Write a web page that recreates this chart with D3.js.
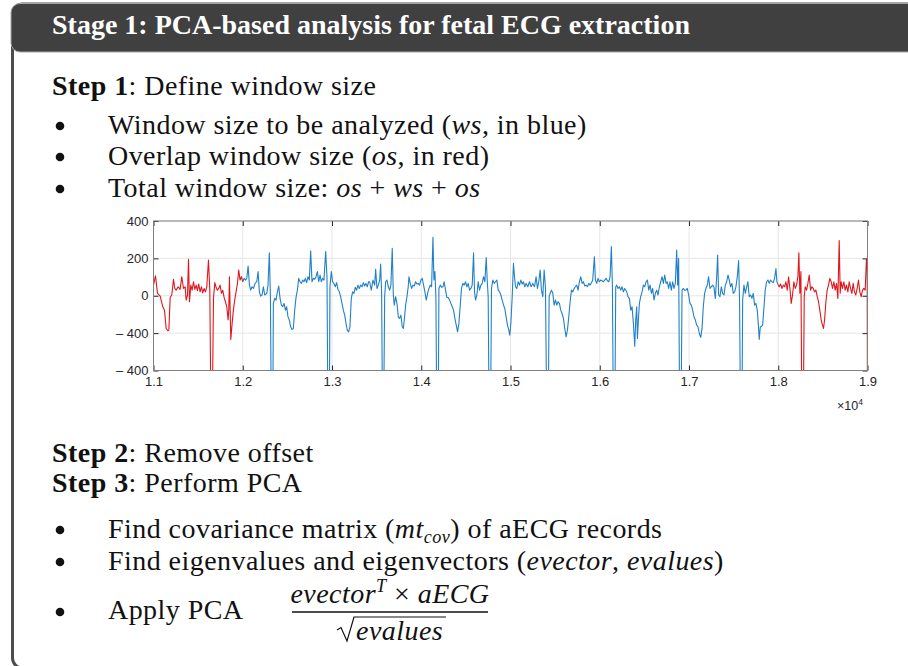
<!DOCTYPE html>
<html>
<head>
<meta charset="utf-8">
<script src="https://cdn.jsdelivr.net/npm/d3@7/dist/d3.min.js"></script>
<style>
  body { margin: 0; background: #fff; }
  svg { display: block; }
</style>
</head>
<body>
<script>
// aECG trace: sample index and amplitude
var sampleIdx = [
  11000,11022,11045,11075,11104,11123,11142,11160,11172,11187,
  11205,11224,11239,11254,11276,11298,11317,11336,11354,11366,
  11381,11392,11403,11418,11433,11448,11463,11478,11492,11507,
  11522,11537,11552,11567,11582,11597,11616,11631,11645,11657,
  11672,11687,11701,11716,11731,11746,11761,11776,11791,11806,
  11821,11836,11843,11851,11866,11881,11895,11910,11925,11940,
  11955,11970,11985,12000,
  12015,12030,12045,12060,12075,12089,12104,12119,12138,12157,
  12172,12186,12201,12216,12231,12246,12269,12283,12298,12310,
  12321,12336,12343,12358,12373,12388,12403,12418,12433,12448,
  12463,12478,12492,12507,12522,12537,12552,12567,12582,12597,
  12612,12627,12642,12657,12672,12686,12701,12716,12731,12746,
  12761,12776,12791,12806,12821,12836,12851,12866,12880,12895,
  12910,12929,12944,12955,12970,12977,12992,13007,13022,13037,
  13052,13067,13082,13097,13112,13127,13142,13157,13171,13186,
  13201,13216,13231,13246,13261,13276,13291,13306,13321,13336,
  13351,13366,13380,13395,13410,
  13422,13440,13459,13478,13489,13504,13519,13534,13545,13556,
  13567,13578,13590,13601,13616,13631,13646,13660,13675,13687,
  13698,13713,13728,13743,13757,13772,13787,13799,13810,13825,
  13840,13854,13862,13877,13892,13907,13922,13937,13951,13966,
  13981,13996,14011,14026,14041,14056,14071,14086,14101,14116,
  14131,14142,14153,14164,14175,14190,14198,14213,14228,14243,
  14257,14272,14287,14302,14317,14332,14347,14362,14377,14392,
  14407,14422,14437,14451,14466,14481,14496,14511,14526,14541,
  14556,14571,14586,14597,14608,14623,14638,14653,14668,14683,
  14698,14713,14728,14739,14750,14761,14776,14787,14802,14817,
  14832,14847,14862,14877,14892,14907,14922,14936,14951,14966,
  14981,14992,15004,15019,15033,15045,15056,15071,15086,15101,
  15116,15131,15145,15160,15175,15194,15213,15231,15250,15269,
  15287,15302,15317,15332,15347,15362,15377,15392,15407,15422,
  15433,15444,15459,15474,15489,15504,15519,15533,15548,15563,
  15578,15593,15608,15623,15638,15653,15668,15683,15698,15713,
  15727,15742,15757,15772,15787,15802,15817,15832,15847,15862,
  15877,15892,15907,15921,15940,15951,15966,15981,15996,16011,
  16026,16041,16056,16071,16086,16101,16116,16130,16142,16153,
  16168,16179,16190,16205,16220,16235,16250,16265,16280,
  16302,16317,16332,16347,16362,16377,16392,16403,16414,16422,
  16433,16444,16459,16474,16489,16504,16519,16534,16549,16564,
  16579,16593,16608,16623,16638,16653,16668,16683,16698,16713,
  16728,16743,16757,16772,16787,16802,16817,16832,16847,16862,
  16873,16884,16896,16910,16922,16937,16951,16966,16981,16996,
  17011,17026,17041,17056,17071,17086,17101,17116,17131,17146,
  17160,17175,17190,17205,17220,17235,17250,17265,17280,17295,
  17310,17321,17332,17347,17362,17377,17392,17407,17422,17437,
  17451,17466,17481,17496,17511,17526,17541,17556,17567,17578,
  17593,17601,17616,17631,17646,17660,17675,17690,17705,17720,
  17735,17750,17765,17776,17787,17799,17810,17825,17839,17854,
  17869,17884,17899,17914,17929,17944,17959,17974,17985,18000,
  18011,18026,18041,18056,18071,18086,18101,18116,18131,18145,
  18160,18175,18190,18205,18220,18231,18242,18254,18265,18280,
  18291,18302,18317,18332,18347,18362,18377,18392,18407,18422,
  18437,18451,18466,18481,18496,18507,18519,18534,18548,18563,
  18578,18593,18608,18623,18638,18653,18668,18683,18694,18705,
  18720,18735,18750,18765,18780,18795,18810,18825,18839,18854,
  18869,18884,18899,18914,18929,18944,18959,18974,18988,18996,
  19000
];
var amplitude = [
  57,107,13,-2,-59,-77,-175,-187,-184,-9,
  4,88,39,30,48,34,102,39,48,-23,
  4,195,-32,57,30,75,34,57,27,63,
  21,48,16,39,21,48,191,30,-700,-700,
  -14,70,45,30,39,57,13,30,-9,-32,
  -59,-130,-77,102,-234,-148,-77,-23,21,63,
  138,84,102,75,
  93,84,93,159,57,30,48,39,66,75,
  129,21,-2,4,48,4,13,57,230,-5,
  -700,-700,-41,-14,-23,21,52,-14,-50,-59,
  -41,-77,-59,-113,-130,-166,-180,-175,-77,-9,
  30,93,75,66,84,75,93,70,102,84,
  241,75,93,88,102,129,75,111,75,93,
  84,236,102,-700,-700,48,129,75,66,48,
  70,34,21,-5,-41,-77,-104,-148,-184,-193,
  -166,-14,21,13,45,30,57,39,57,48,
  70,52,66,48,75,
  75,30,84,57,141,39,57,84,170,13,
  -700,-700,-5,75,84,48,30,57,254,4,
  -50,-5,-41,-113,-121,-104,-166,-175,-130,-50,
  -5,48,102,66,39,57,52,75,63,66,
  57,84,93,57,21,-23,13,39,57,48,
  313,84,129,-5,-700,-700,39,57,45,48,
  75,30,-9,-9,-23,-41,-59,-77,-121,-157,
  -193,-148,-50,39,66,57,75,48,66,30,
  39,57,230,21,-23,4,75,30,57,66,
  102,75,205,84,-5,-700,-700,39,84,66,
  75,84,30,21,4,-23,-50,-68,-113,-157,
  -184,-211,-148,-5,173,102,48,39,75,57,
  84,63,75,48,66,48,75,48,66,48,
  102,39,75,138,30,-5,138,39,-700,-700,
  -5,13,30,13,-50,-23,-50,-32,-41,-77,
  -95,-121,-175,-220,-184,-113,-32,30,21,39,
  48,57,30,75,102,66,75,52,57,48,
  66,57,70,84,209,84,66,93,75,84,
  80,75,84,93,80,75,102,263,48,-700,
  -700,48,57,39,48,30,48,21,39,
  21,-5,-14,-77,-59,-148,-270,-130,-59,-229,
  -130,-41,-5,21,57,48,75,84,30,57,
  13,39,-23,13,30,4,48,75,102,66,
  111,66,75,39,75,30,75,39,66,245,
  57,200,-700,-700,30,39,30,30,39,4,
  -41,-50,-77,-113,-130,-157,-166,-202,-223,-175,
  -59,13,39,57,102,39,48,57,45,-14,
  102,218,4,-5,48,13,4,57,75,111,
  84,48,66,13,21,48,102,188,-41,-700,
  -700,-23,57,13,48,75,-5,4,-14,13,
  -50,-41,-77,-148,-234,-166,-166,-157,-68,30,
  75,84,66,84,75,70,93,146,75,57,
  48,63,39,57,48,75,30,102,39,-41,
  4,75,39,57,102,230,13,129,-700,-700,
  -5,48,30,66,111,30,48,39,21,30,
  -5,-32,-77,-130,-157,-175,-130,-32,30,57,
  93,75,39,75,30,66,-14,295,13,75,
  39,75,30,57,21,75,39,13,66,21,
  4,39,84,21,-5,30,39,30,195,191,
  -700
];

// window limits: os (red) | ws (blue) | os (red)
var osStart = 11000, wsStart = 12000, wsEnd = 18000, osEnd = 19000;

var xTicks = [11000,12000,13000,14000,15000,16000,17000,18000,19000];
var xTickLabels = ["1.1","1.2","1.3","1.4","1.5","1.6","1.7","1.8","1.9"];
var yTicks = [400,200,0,-200,-400];
var yTickLabels = ["400","200","0","\u2013 400","\u2013 400"];

var width = 908, height = 666;

var svg = d3.select("body").append("svg")
    .attr("width", width)
    .attr("height", height)
    .style("font-family", "'Liberation Serif', 'Times New Roman', serif");

// box frame
svg.append("rect")
    .attr("x", 12.5).attr("y", 4)
    .attr("width", 1000).attr("height", 664)
    .attr("rx", 10)
    .attr("fill", "#fff")
    .attr("stroke", "#4d4d4d")
    .attr("stroke-width", 3);

// header bar
svg.append("rect")
    .attr("x", 11).attr("y", 3.5)
    .attr("width", 1000).attr("height", 48.5)
    .attr("rx", 9)
    .attr("fill", "#404040")
    .attr("stroke", "#a6a6a6")
    .attr("stroke-width", 1);

svg.append("text")
    .attr("x", 52).attr("y", 34)
    .attr("fill", "#fff")
    .attr("font-size", 28)
    .attr("font-weight", "bold")
    .text("Stage 1: PCA-based analysis for fetal ECG extraction");

// text line with bold / italic / sub / sup parts
function rich(x, y, parts, size, anchor) {
  var t = svg.append("text")
      .attr("x", x).attr("y", y)
      .attr("font-size", size)
      .attr("letter-spacing", 0.45)
      .attr("fill", "#111")
      .attr("text-anchor", anchor || "start");
  var shift = 0;
  parts.forEach(function(p) {
    var sp = t.append("tspan").text(p.t);
    var target = p.sub ? 5 : (p.sup ? -11 : 0);
    if (target !== shift) sp.attr("dy", target - shift);
    shift = target;
    if (p.b) sp.attr("font-weight", "bold");
    if (p.i) sp.attr("font-style", "italic");
    if (p.sub || p.sup) sp.attr("font-size", size * 0.65);
  });
  return t;
}

function bullet(y) {
  svg.append("circle").attr("cx", 60).attr("cy", y - 8).attr("r", 4.3).attr("fill", "#111");
}

var fs = 28;

rich(52, 95, [{t: "Step 1", b: true}, {t: ": Define window size"}], fs);
bullet(134);
rich(108, 134, [{t: "Window size to be analyzed ("}, {t: "ws", i: true}, {t: ", in blue)"}], fs);
bullet(165);
rich(108, 165, [{t: "Overlap window size ("}, {t: "os", i: true}, {t: ", in red)"}], fs);
bullet(197);
rich(108, 197, [{t: "Total window size: "}, {t: "os", i: true}, {t: " + "}, {t: "ws", i: true}, {t: " + "}, {t: "os", i: true}], fs);

rich(52, 462, [{t: "Step 2", b: true}, {t: ": Remove offset"}], fs);
rich(52, 492, [{t: "Step 3", b: true}, {t: ": Perform PCA"}], fs);
bullet(538);
rich(108, 538, [{t: "Find covariance matrix ("}, {t: "mt", i: true}, {t: "cov", i: true, sub: true}, {t: ") of aECG records"}], fs);
bullet(570);
rich(108, 570, [{t: "Find eigenvalues and eigenvectors ("}, {t: "evector", i: true}, {t: ", "}, {t: "evalues", i: true}, {t: ")"}], fs);
bullet(620);
rich(108, 619, [{t: "Apply PCA"}], fs);

// formula
rich(390, 603, [{t: "evector", i: true}, {t: "T", i: true, sup: true}, {t: " \u00d7 "}, {t: "aECG", i: true}], fs, "middle");
svg.append("line")
    .attr("x1", 292).attr("x2", 488)
    .attr("y1", 612).attr("y2", 612)
    .attr("stroke", "#111").attr("stroke-width", 1.3);
svg.append("path")
    .attr("d", "M337,630 L341,627.5 L347,641 L354,617 L446,617")
    .attr("fill", "none").attr("stroke", "#111").attr("stroke-width", 1.2);
rich(356, 640, [{t: "evalues", i: true}], fs);

// ---- ECG chart ----
var plot = {left: 153.5, right: 867.5, top: 221, bottom: 370.5};

var x = d3.scaleLinear().domain([osStart, osEnd]).range([plot.left, plot.right]);
var y = d3.scaleLinear().domain([-400, 400]).range([plot.bottom, plot.top]);

var chart = svg.append("g").style("font-family", "'Liberation Sans', Arial, sans-serif");

// grid
chart.selectAll(".gx").data(xTicks).enter().append("line")
    .attr("x1", function(d) { return x(d); }).attr("x2", function(d) { return x(d); })
    .attr("y1", plot.top).attr("y2", plot.bottom)
    .attr("stroke", "#e6e6e6");
chart.selectAll(".gy").data(yTicks).enter().append("line")
    .attr("y1", function(d) { return y(d); }).attr("y2", function(d) { return y(d); })
    .attr("x1", plot.left).attr("x2", plot.right)
    .attr("stroke", "#e6e6e6");

chart.append("clipPath").attr("id", "clip")
  .append("rect")
    .attr("x", plot.left).attr("y", plot.top)
    .attr("width", plot.right - plot.left).attr("height", plot.bottom - plot.top);

var data = sampleIdx.map(function(s, i) { return {s: s, v: amplitude[i]}; });
var red1 = data.filter(function(d) { return d.s <= wsStart; });
var blue = data.filter(function(d) { return d.s >= wsStart && d.s <= wsEnd; });
var red2 = data.filter(function(d) { return d.s >= wsEnd; });

var valueline = d3.line()
    .x(function(d) { return x(d.s); })
    .y(function(d) { return y(d.v); });

[[blue, "#2180c8"], [red1, "#e0161d"], [red2, "#e0161d"]].forEach(function(seg) {
  chart.append("path")
      .datum(seg[0])
      .attr("clip-path", "url(#clip)")
      .attr("fill", "none")
      .attr("stroke", seg[1])
      .attr("stroke-width", 1.1)
      .attr("stroke-linejoin", "round")
      .attr("d", valueline);
});

// axes (MATLAB-style box, ticks inside)
var axisColor = "#262626";
function styleAxis(g) {
  g.select(".domain").remove();
  g.selectAll(".tick line").attr("stroke", axisColor);
  g.selectAll(".tick text").attr("fill", axisColor).attr("font-size", 13);
}

chart.append("g")
    .attr("transform", "translate(0," + plot.bottom + ")")
    .call(d3.axisBottom(x).tickValues(xTicks)
      .tickFormat(function(d, i) { return xTickLabels[i]; })
      .tickSize(-5).tickPadding(6))
    .call(styleAxis);
chart.append("g")
    .attr("transform", "translate(0," + plot.top + ")")
    .call(d3.axisTop(x).tickValues(xTicks).tickFormat("").tickSize(-5))
    .call(styleAxis);
chart.append("g")
    .attr("transform", "translate(" + plot.left + ",0)")
    .call(d3.axisLeft(y).tickValues(yTicks)
      .tickFormat(function(d, i) { return yTickLabels[i]; })
      .tickSize(-5).tickPadding(5))
    .call(styleAxis);
chart.append("g")
    .attr("transform", "translate(" + plot.right + ",0)")
    .call(d3.axisRight(y).tickValues(yTicks).tickFormat("").tickSize(-5))
    .call(styleAxis);

chart.append("rect")
    .attr("x", plot.left).attr("y", plot.top)
    .attr("width", plot.right - plot.left).attr("height", plot.bottom - plot.top)
    .attr("fill", "none")
    .attr("stroke", "#808080")
    .attr("stroke-width", 1);

// exponent label
var ex = chart.append("text")
    .attr("x", 837).attr("y", 410)
    .attr("font-size", 12.5)
    .attr("fill", axisColor);
ex.append("tspan").text("\u00d710");
ex.append("tspan").attr("dy", -5).attr("font-size", 8.5).text("4");
</script>
</body>
</html>
